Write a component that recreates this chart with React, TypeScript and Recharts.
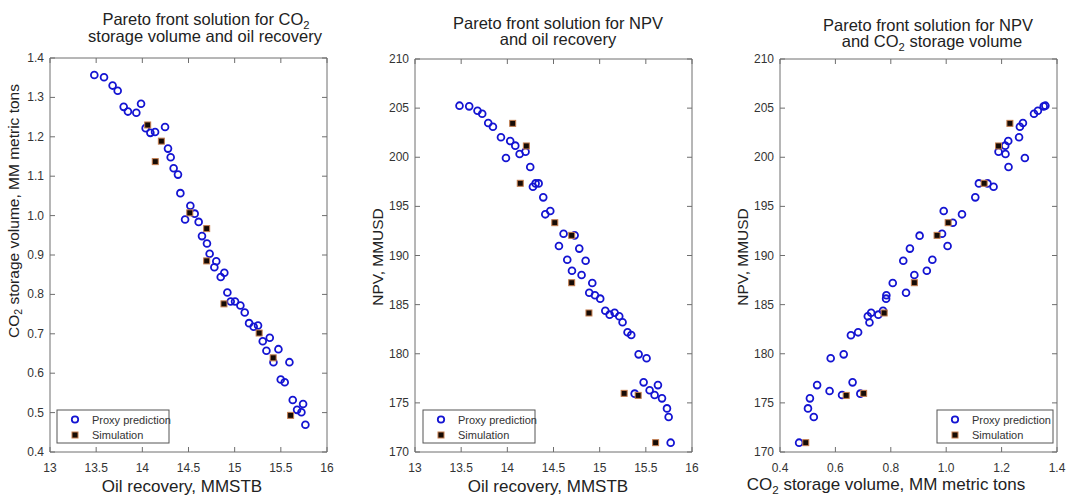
import React from "react";
import { ScatterChart, Scatter, XAxis, YAxis } from "recharts";

// proxy model points, one pair of arrays per panel
const proxyOil1 = [13.48, 13.585, 13.678, 13.733, 13.798, 13.844, 13.935, 13.986, 14.036, 14.087, 14.138, 14.246, 14.278, 14.307, 14.339, 14.386, 14.412, 14.52, 14.567, 14.463, 14.61, 14.646, 14.7, 14.729, 14.801, 14.78, 14.888, 14.849, 14.921, 14.957, 15.004, 15.062, 15.109, 15.156, 15.206, 15.253, 15.304, 15.38, 15.344, 15.474, 15.42, 15.593, 15.499, 15.542, 15.629, 15.676, 15.741, 15.723, 15.766];
const proxyCo2_1 = [1.357, 1.351, 1.33, 1.317, 1.276, 1.264, 1.261, 1.284, 1.222, 1.21, 1.212, 1.225, 1.17, 1.148, 1.12, 1.104, 1.057, 1.025, 1.005, 0.99, 0.984, 0.948, 0.929, 0.903, 0.884, 0.869, 0.855, 0.844, 0.805, 0.782, 0.782, 0.772, 0.754, 0.727, 0.718, 0.721, 0.681, 0.69, 0.657, 0.661, 0.628, 0.628, 0.584, 0.577, 0.532, 0.507, 0.522, 0.501, 0.469];

const proxyOil2 = [13.482, 13.587, 13.677, 13.728, 13.793, 13.844, 13.931, 13.985, 14.031, 14.086, 14.133, 14.197, 14.248, 14.277, 14.306, 14.339, 14.389, 14.411, 14.465, 14.609, 14.729, 14.559, 14.779, 14.649, 14.848, 14.7, 14.804, 14.92, 14.887, 14.949, 15.006, 15.061, 15.108, 15.162, 15.212, 15.248, 15.302, 15.342, 15.422, 15.508, 15.476, 15.631, 15.541, 15.379, 15.595, 15.675, 15.729, 15.747, 15.769];
const proxyNpv2 = [205.25, 205.18, 204.74, 204.43, 203.49, 203.11, 202.03, 199.92, 201.65, 201.18, 200.33, 200.57, 199.01, 197.0, 197.34, 197.34, 195.92, 194.19, 194.53, 192.22, 192.05, 190.97, 190.7, 189.57, 189.47, 188.45, 188.02, 187.2, 186.21, 185.95, 185.61, 184.38, 183.98, 184.18, 183.81, 183.2, 182.18, 181.91, 179.94, 179.54, 177.09, 176.81, 176.28, 175.94, 175.8, 175.46, 174.44, 173.56, 170.95];

const proxyCo2_3 = [0.469, 0.501, 0.508, 0.522, 0.534, 0.579, 0.583, 0.624, 0.63, 0.662, 0.656, 0.682, 0.69, 0.717, 0.729, 0.723, 0.755, 0.772, 0.783, 0.784, 0.807, 0.855, 0.845, 0.869, 0.885, 0.904, 0.93, 0.95, 0.985, 0.991, 1.005, 1.024, 1.057, 1.105, 1.118, 1.149, 1.171, 1.189, 1.213, 1.214, 1.224, 1.225, 1.263, 1.284, 1.266, 1.277, 1.317, 1.331, 1.352, 1.358];
const proxyNpv3 = [170.95, 174.44, 175.46, 173.56, 176.81, 176.21, 179.54, 175.8, 179.94, 177.09, 181.88, 182.18, 175.94, 183.81, 184.18, 183.18, 183.98, 184.38, 185.61, 185.95, 187.2, 186.21, 189.47, 190.7, 188.02, 192.02, 188.45, 189.57, 192.22, 194.53, 190.97, 193.34, 194.19, 195.92, 197.34, 197.34, 197.0, 200.57, 201.18, 200.33, 201.65, 199.01, 202.03, 199.92, 203.11, 203.49, 204.43, 204.74, 205.18, 205.25];

// simulation runs (same cases in all three panels)
const simOil = [14.058, 14.206, 14.14, 14.514, 14.697, 14.697, 14.884, 15.265, 15.417, 15.606];
const simCo2 = [1.23, 1.189, 1.137, 1.007, 0.967, 0.885, 0.776, 0.702, 0.639, 0.493];
const simNpv = [203.45, 201.15, 197.35, 193.34, 192.05, 187.23, 184.15, 175.97, 175.76, 170.95];

const oilTicks = [13, 13.5, 14, 14.5, 15, 15.5, 16];
const co2Ticks = [0.4, 0.5, 0.6, 0.7, 0.8, 0.9, 1.0, 1.1, 1.2, 1.3, 1.4];
const co2XTicks = [0.4, 0.6, 0.8, 1.0, 1.2, 1.4];
const npvTicks = [170, 175, 180, 185, 190, 195, 200, 205, 210];

const FONT = '"Liberation Sans", Arial, Helvetica, sans-serif';
const AXIS = "#6e6e6e";
const TICK_TEXT = "#333";
const BLUE = "#1414d2";

const zip = (xs: number[], ys: number[]) => xs.map((x, i) => ({ x, y: ys[i] }));

type Fmt = (v: number) => string;
const plain: Fmt = (v) => String(v);
const oneDec: Fmt = (v) => v.toFixed(1);

const tickText = { fontSize: 12, fill: TICK_TEXT, fontFamily: FONT };

// axes have 1px thickness (0 hides them), ticks point inwards like matlab
const bottomTick = (fmt: Fmt) => (p: any) => (
  <g>
    <line x1={p.x} x2={p.x} y1={p.y} y2={p.y - 5} stroke={AXIS} />
    <text x={p.x} y={p.y + 20} textAnchor="middle" {...tickText}>
      {fmt(p.payload.value)}
    </text>
  </g>
);
const topTick = (p: any) => <line x1={p.x} x2={p.x} y1={p.y} y2={p.y + 5} stroke={AXIS} />;
const leftTick = (fmt: Fmt) => (p: any) => (
  <g>
    <line x1={p.x} x2={p.x + 5} y1={p.y} y2={p.y} stroke={AXIS} />
    <text x={p.x - 6} y={p.y + 4} textAnchor="end" {...tickText}>
      {fmt(p.payload.value)}
    </text>
  </g>
);
const rightTick = (p: any) => <line x1={p.x} x2={p.x - 5} y1={p.y} y2={p.y} stroke={AXIS} />;

const Ring = (p: any) => (
  <circle cx={p.cx} cy={p.cy} r={3.4} fill="none" stroke={BLUE} strokeWidth={1.8} />
);
const Square = (p: any) => (
  <rect x={p.cx - 3} y={p.cy - 3} width={6} height={6} fill="#160b05" stroke="#c47d4e" strokeWidth={1} />
);

interface PanelProps {
  left: number;
  width: number;
  margin: { top: number; right: number; bottom: number; left: number };
  xDomain: [number, number];
  xTicks: number[];
  xFmt: Fmt;
  yDomain: [number, number];
  yTicks: number[];
  yFmt: Fmt;
  proxy: { x: number; y: number }[];
  sim: { x: number; y: number }[];
}

function Panel(props: PanelProps) {
  const { left, width, margin, xDomain, xTicks, xFmt, yDomain, yTicks, yFmt, proxy, sim } = props;
  return (
    <div style={{ position: "absolute", left, top: 0 }}>
      <ScatterChart width={width} height={496} margin={margin}>
        <XAxis xAxisId="b" type="number" dataKey="x" domain={xDomain} ticks={xTicks} interval={0}
          orientation="bottom" height={1} tickSize={0} tickMargin={0} tick={bottomTick(xFmt)}
          axisLine={{ stroke: AXIS }} allowDataOverflow />
        <XAxis xAxisId="t" type="number" dataKey="x" domain={xDomain} ticks={xTicks} interval={0}
          orientation="top" height={1} tickSize={0} tickMargin={0} tick={topTick}
          axisLine={{ stroke: AXIS }} allowDataOverflow />
        <YAxis yAxisId="l" type="number" dataKey="y" domain={yDomain} ticks={yTicks} interval={0}
          orientation="left" width={1} tickSize={0} tickMargin={0} tick={leftTick(yFmt)}
          axisLine={{ stroke: AXIS }} allowDataOverflow />
        <YAxis yAxisId="r" type="number" dataKey="y" domain={yDomain} ticks={yTicks} interval={0}
          orientation="right" width={1} tickSize={0} tickMargin={0} tick={rightTick}
          axisLine={{ stroke: AXIS }} allowDataOverflow />
        <Scatter xAxisId="b" yAxisId="l" data={proxy} shape={Ring} isAnimationActive={false} />
        <Scatter xAxisId="b" yAxisId="l" data={sim} shape={Square} isAnimationActive={false} />
      </ScatterChart>
    </div>
  );
}

function Legend({ x, y, w }: { x: number; y: number; w: number }) {
  return (
    <g>
      <rect x={x} y={y} width={w} height={33} fill="#fff" stroke="#555" strokeWidth={1} />
      <circle cx={x + 18} cy={y + 9.5} r={3.2} fill="none" stroke={BLUE} strokeWidth={1.8} />
      <text x={x + 35} y={y + 13.5} fontSize={11} fill="#333" fontFamily={FONT}>Proxy prediction</text>
      <rect x={x + 15} y={y + 22} width={6} height={6} fill="#160b05" stroke="#c47d4e" />
      <text x={x + 35} y={y + 29} fontSize={11} fill="#333" fontFamily={FONT}>Simulation</text>
    </g>
  );
}

const Sub = ({ size }: { size: number }) => (
  <tspan fontSize={size * 0.68} dy={size * 0.22}>2</tspan>
);

export default function App() {
  const T = 16.5;
  const L = 17;
  const Y = 15.5;
  return (
    <div style={{ position: "absolute", left: 0, top: 0, width: 1067, height: 496, background: "#fff", fontFamily: FONT }}>
      <Panel left={0} width={355} margin={{ top: 57, right: 27, bottom: 43, left: 49 }}
        xDomain={[13, 16]} xTicks={oilTicks} xFmt={plain}
        yDomain={[0.4, 1.4]} yTicks={co2Ticks} yFmt={oneDec}
        proxy={zip(proxyOil1, proxyCo2_1)} sim={zip(simOil, simCo2)} />
      <Panel left={360} width={355} margin={{ top: 58, right: 22, bottom: 43, left: 54 }}
        xDomain={[13, 16]} xTicks={oilTicks} xFmt={plain}
        yDomain={[170, 210]} yTicks={npvTicks} yFmt={plain}
        proxy={zip(proxyOil2, proxyNpv2)} sim={zip(simOil, simNpv)} />
      <Panel left={720} width={347} margin={{ top: 58, right: 9, bottom: 43, left: 59 }}
        xDomain={[0.4, 1.4]} xTicks={co2XTicks} xFmt={oneDec}
        yDomain={[170, 210]} yTicks={npvTicks} yFmt={plain}
        proxy={zip(proxyCo2_3, proxyNpv3)} sim={zip(simCo2, simNpv)} />

      <svg width={1067} height={496} style={{ position: "absolute", left: 0, top: 0, pointerEvents: "none" }}
        fontFamily={FONT} fill="#222">
        {/* titles */}
        <text x={206} y={25} fontSize={T} textAnchor="middle">
          Pareto front solution for CO<Sub size={T} />
        </text>
        <text x={205} y={42} fontSize={T} textAnchor="middle">storage volume and oil recovery</text>
        <text x={558} y={29} fontSize={T} textAnchor="middle">Pareto front solution for NPV</text>
        <text x={558} y={45} fontSize={T} textAnchor="middle">and oil recovery</text>
        <text x={928} y={30.5} fontSize={T} textAnchor="middle">Pareto front solution for NPV</text>
        <text x={932} y={47} fontSize={T} textAnchor="middle">
          and CO<Sub size={T} /><tspan dy={-T * 0.22}> storage volume</tspan>
        </text>

        {/* x axis labels */}
        <text x={182} y={492} fontSize={L} textAnchor="middle">Oil recovery, MMSTB</text>
        <text x={548} y={492} fontSize={L} textAnchor="middle">Oil recovery, MMSTB</text>
        <text x={886} y={490} fontSize={L} textAnchor="middle">
          CO<Sub size={L} /><tspan dy={-L * 0.22}> storage volume, MM metric tons</tspan>
        </text>

        {/* y axis labels */}
        <text x={19} y={211} fontSize={Y} textAnchor="middle" transform="rotate(-90 19 211)">
          CO<Sub size={Y} /><tspan dy={-Y * 0.22}> storage volume, MM metric tons</tspan>
        </text>
        <text x={383} y={257} fontSize={Y} textAnchor="middle" transform="rotate(-90 383 257)">NPV, MMUSD</text>
        <text x={748} y={257} fontSize={Y} textAnchor="middle" transform="rotate(-90 748 257)">NPV, MMUSD</text>

        {/* legends */}
        <Legend x={57} y={410} w={112} />
        <Legend x={423} y={410} w={112} />
        <Legend x={937} y={410} w={116} />
      </svg>
    </div>
  );
}
